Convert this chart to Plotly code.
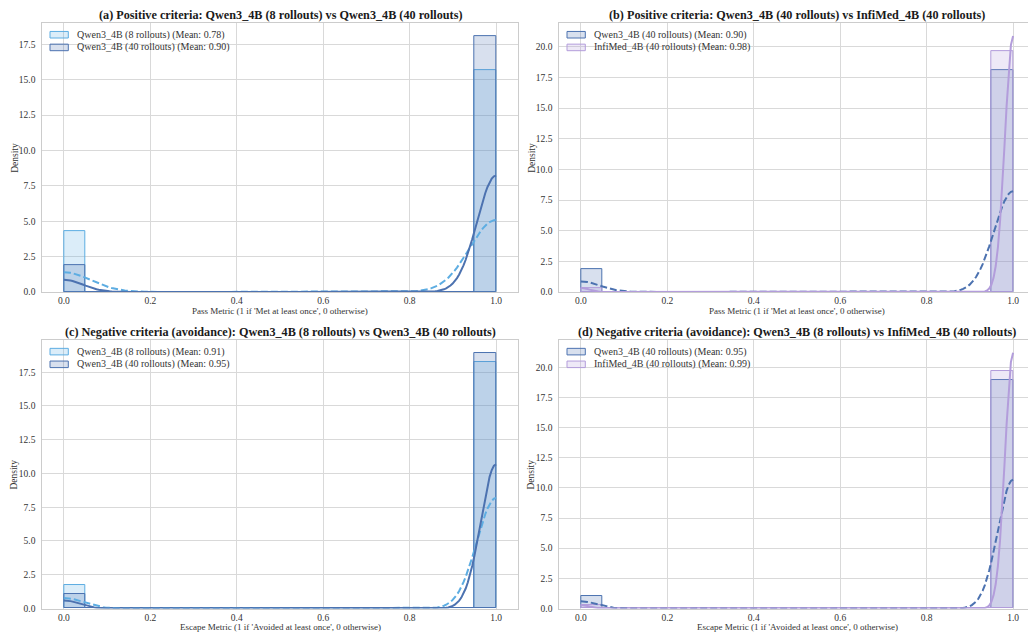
import numpy as np
import plotly.graph_objects as go

# ---------------- data ----------------
panel_titles = [
    "(a) Positive criteria: Qwen3_4B (8 rollouts) vs Qwen3_4B (40 rollouts)",
    "(b) Positive criteria: Qwen3_4B (40 rollouts) vs InfiMed_4B (40 rollouts)",
    "(c) Negative criteria (avoidance): Qwen3_4B (8 rollouts) vs Qwen3_4B (40 rollouts)",
    "(d) Negative criteria (avoidance): Qwen3_4B (8 rollouts) vs InfiMed_4B (40 rollouts)",
]
x_titles = [
    "Pass Metric (1 if 'Met at least once', 0 otherwise)",
    "Pass Metric (1 if 'Met at least once', 0 otherwise)",
    "Escape Metric (1 if 'Avoided at least once', 0 otherwise)",
    "Escape Metric (1 if 'Avoided at least once', 0 otherwise)",
]
series_labels = [
    ["Qwen3_4B (8 rollouts) (Mean: 0.78)", "Qwen3_4B (40 rollouts) (Mean: 0.90)"],
    ["Qwen3_4B (40 rollouts) (Mean: 0.90)", "InfiMed_4B (40 rollouts) (Mean: 0.98)"],
    ["Qwen3_4B (8 rollouts) (Mean: 0.91)", "Qwen3_4B (40 rollouts) (Mean: 0.95)"],
    ["Qwen3_4B (40 rollouts) (Mean: 0.95)", "InfiMed_4B (40 rollouts) (Mean: 0.99)"],
]
series_keys = [["q8", "q40"], ["q40", "infimed"], ["q8", "q40"], ["q40", "infimed"]]
# fraction of criteria with metric == 1, per panel / series
pass_rates = [[0.785, 0.905], [0.905, 0.984], [0.913, 0.947], [0.947, 0.986]]
# number of criteria evaluated per panel
n_criteria = [13300, 13300, 10200, 10200]
x_ticks = [0.0, 0.2, 0.4, 0.6, 0.8, 1.0]

# ---------------- style ----------------
W, H = 1028, 639
COLORS = {"q8": (93, 173, 226), "q40": (76, 114, 176), "infimed": (179, 157, 219)}
FILL_ALPHA = 0.22
SERIF = "Liberation Serif, Times New Roman, serif"
GRID = "#d9d9d9"
SPINE = "#cccccc"
col_left_px = [42.3, 559.3]
plot_w_px = 475.4
row_top_px = [23.3, 342.7]
row_bot_px = [294.3, 613.3]


def px(x):
    return x / W


def py(y):
    return 1 - y / H


def rgba(c, a):
    return f"rgba({c[0]},{c[1]},{c[2]},{a})"


def samples_from(rate, n):
    n1 = int(round(rate * n))
    return np.concatenate([np.zeros(n - n1), np.ones(n1)])


def kde_curve(samples, grid):
    n = samples.size
    bw = samples.std(ddof=1) * n ** (-1 / 5)  # Scott's rule
    vals, counts = np.unique(samples, return_counts=True)
    z = (grid[:, None] - vals[None, :]) / bw
    return (np.exp(-0.5 * z ** 2) * counts).sum(axis=1) / (n * bw * np.sqrt(2 * np.pi))


fig = go.Figure()
shapes, annotations = [], []

for p in range(4):
    r, c = divmod(p, 2)
    ax = "" if p == 0 else str(p + 1)
    xref, yref = "x" + ax, "y" + ax
    left = col_left_px[c]
    right = min(left + plot_w_px, W)
    top, bot = row_top_px[r], row_bot_px[r]
    ymax = 0
    grid = np.linspace(0, 1, 200)
    lines = []
    for s in range(2):
        key = series_keys[p][s]
        col = COLORS[key]
        smp = samples_from(pass_rates[p][s], n_criteria[p])
        dens, edges = np.histogram(smp, bins=20, range=(0, 1), density=True)
        centers = (edges[:-1] + edges[1:]) / 2
        fig.add_trace(go.Bar(
            x=centers, y=dens, width=edges[1] - edges[0],
            marker=dict(color=rgba(col, FILL_ALPHA), line=dict(color=rgba(col, 1), width=1)),
            xaxis=xref, yaxis=yref, showlegend=False, hoverinfo="skip",
        ))
        k = kde_curve(smp, grid)
        lines.append((grid, k, col, s))
        ymax = max(ymax, dens.max(), k.max())
    for gx, gy, col, s in lines:
        fig.add_trace(go.Scatter(
            x=gx, y=gy, mode="lines",
            line=dict(color=rgba(col, 1), width=2, dash="7px,3px" if s == 0 else "solid"),
            xaxis=xref, yaxis=yref, showlegend=False, hoverinfo="skip",
        ))

    xr_max = -0.05 + 1.1 * (right - left) / plot_w_px
    fig.layout["xaxis" + ax] = dict(
        domain=[px(left), min(px(right), 1.0)], anchor=yref, range=[-0.05, xr_max],
        tickvals=x_ticks, tickformat=".1f", showgrid=True, gridcolor=GRID, gridwidth=1,
        zeroline=False, showline=True, linecolor=SPINE, linewidth=1, mirror=True,
        ticks="", tickfont=dict(family=SERIF, size=9.5, color="#333333"),
    )
    fig.layout["yaxis" + ax] = dict(
        domain=[py(bot), py(top)], anchor=xref, range=[0, ymax * 1.05],
        dtick=2.5, tick0=0, tickformat=".1f", showgrid=True, gridcolor=GRID, gridwidth=1,
        zeroline=False, showline=True, linecolor=SPINE, linewidth=1, mirror=(c == 0),
        ticks="", ticklabelstandoff=4, tickfont=dict(family=SERIF, size=9.5, color="#333333"),
    )

    cx = left + plot_w_px / 2
    annotations.append(dict(
        text="<b>" + panel_titles[p] + "</b>", x=px(cx), y=py(top - 8),
        xref="paper", yref="paper", xanchor="center", yanchor="middle", showarrow=False,
        font=dict(family=SERIF, size=12.2, color="#1a1a1a"),
    ))
    annotations.append(dict(
        text=x_titles[p], x=px(cx), y=py(bot + 19), xref="paper", yref="paper",
        xanchor="center", yanchor="middle", showarrow=False,
        font=dict(family=SERIF, size=9, color="#333333"),
    ))
    annotations.append(dict(
        text="Density", x=px(left - 28), y=py((top + bot) / 2), xref="paper", yref="paper",
        xanchor="center", yanchor="middle", textangle=-90, showarrow=False,
        font=dict(family=SERIF, size=9.5, color="#333333"),
    ))
    for s in range(2):
        col = COLORS[series_keys[p][s]]
        y0 = top + 8.4 + s * 12.8
        shapes.append(dict(
            type="rect", xref="paper", yref="paper",
            x0=px(left + 7.7), x1=px(left + 26), y0=py(y0), y1=py(y0 + 6.6),
            fillcolor=rgba(col, FILL_ALPHA), line=dict(color=rgba(col, 1), width=1), layer="above",
        ))
        annotations.append(dict(
            text=series_labels[p][s], x=px(left + 32.7), y=py(y0 + 3.3),
            xref="paper", yref="paper", xanchor="left", yanchor="middle", showarrow=False,
            font=dict(family=SERIF, size=10, color="#333333"),
        ))

fig.update_layout(
    width=W, height=H, margin=dict(l=0, r=0, t=0, b=0),
    paper_bgcolor="white", plot_bgcolor="white", barmode="overlay", bargap=0,
    shapes=shapes, annotations=annotations, showlegend=False,
)
fig.write_html(
    "out.html",
    config={"displayModeBar": False},
    post_script="document.body.style.margin='0';document.body.style.overflow='hidden';",
)
